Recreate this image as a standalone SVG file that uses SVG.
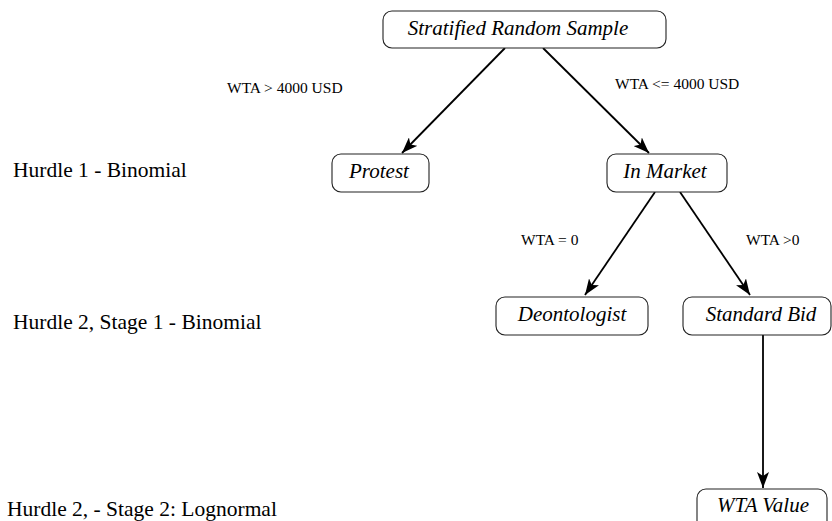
<svg xmlns="http://www.w3.org/2000/svg" width="832" height="521" viewBox="0 0 832 521">
<style>
.box{fill:#fff;stroke:#222;stroke-width:1.1}
.nt{font-family:"Liberation Serif","Times New Roman",serif;font-style:italic;font-size:21px;fill:#000;text-anchor:middle}
.lt{font-family:"Liberation Serif","Times New Roman",serif;font-size:21.5px;fill:#000}
.el{font-family:"Liberation Serif","Times New Roman",serif;font-size:15.5px;fill:#000}
.cn{stroke:#000;stroke-width:1.8;fill:none;marker-end:url(#ah)}
</style>
<defs>
<marker id="ah" viewBox="0 0 16 12" refX="16" refY="6" markerWidth="16" markerHeight="12" markerUnits="userSpaceOnUse" orient="auto">
<path d="M0,0 L16,6 L0,12 L4,6 Z" fill="#000"/>
</marker>
</defs>
<rect width="832" height="521" fill="#fff"/>
<g id="connectors">
<line class="cn" x1="505" y1="48" x2="402" y2="153"/>
<line class="cn" x1="543" y1="48" x2="649" y2="153"/>
<line class="cn" x1="655" y1="192" x2="585" y2="295"/>
<line class="cn" x1="680" y1="192" x2="750" y2="295"/>
<line class="cn" x1="763" y1="335" x2="763" y2="488"/>
</g>
<g id="edge-labels">
<text class="el" x="227" y="93">WTA &gt; 4000 USD</text>
<text class="el" x="615" y="89">WTA &lt;= 4000 USD</text>
<text class="el" x="521" y="245">WTA = 0</text>
<text class="el" x="746" y="245">WTA &gt;0</text>
</g>
<g id="levels">
<text class="lt" x="13" y="177">Hurdle 1 - Binomial</text>
<text class="lt" x="13" y="329">Hurdle 2, Stage 1 - Binomial</text>
<text class="lt" x="7" y="516">Hurdle 2, - Stage 2: Lognormal</text>
</g>
<g id="n-stratified">
<rect class="box" x="383" y="11" width="283" height="37" rx="9"/>
<text class="nt" x="518" y="35">Stratified Random Sample</text>
</g>
<g id="n-protest">
<rect class="box" x="332" y="154" width="97" height="38" rx="9"/>
<text class="nt" x="379" y="178">Protest</text>
</g>
<g id="n-inmarket">
<rect class="box" x="607" y="154" width="120" height="38" rx="9"/>
<text class="nt" x="665" y="178">In Market</text>
</g>
<g id="n-deontologist">
<rect class="box" x="496" y="297" width="152" height="38" rx="9"/>
<text class="nt" x="572" y="321">Deontologist</text>
</g>
<g id="n-standardbid">
<rect class="box" x="683" y="297" width="148" height="38" rx="9"/>
<text class="nt" x="761" y="321">Standard Bid</text>
</g>
<g id="n-wtavalue">
<rect class="box" x="697" y="489" width="130" height="45" rx="9"/>
<text class="nt" x="763" y="512">WTA Value</text>
</g>
</svg>
